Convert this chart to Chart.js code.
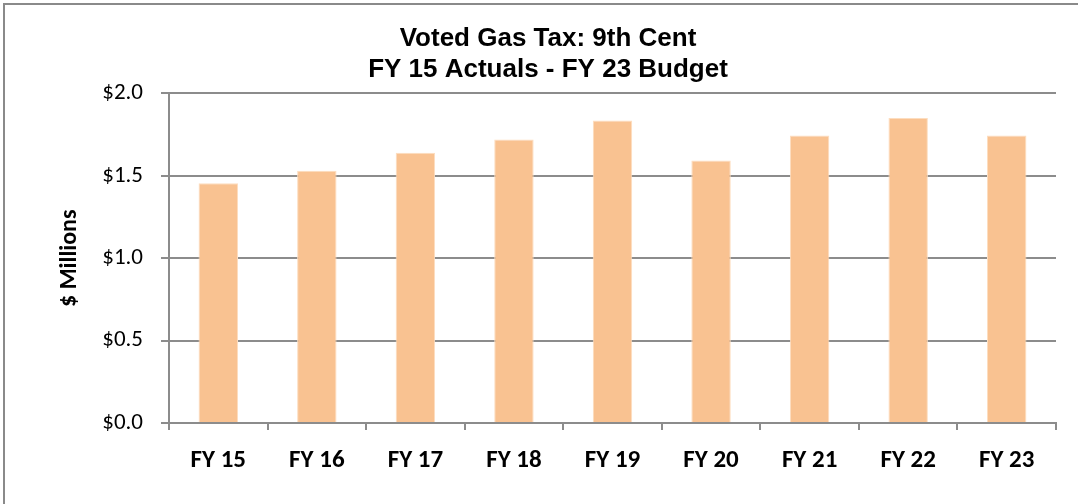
<!DOCTYPE html>
<html>
<head>
<meta charset="utf-8">
<script src="https://cdn.jsdelivr.net/npm/chart.js@4.4.0/dist/chart.umd.min.js"></script>
<style>
  body { margin: 0; background: #fff; }
  #marco { position: absolute; left: 3px; top: 3px; width: 1200px; height: 600px; border-top: 2px solid #8a8a8a; border-left: 2px solid #8a8a8a; pointer-events: none; }
  canvas { position: absolute; left: 0; top: 0; }
</style>
</head>
<body>
<canvas id="graficoGas" width="1078" height="504"></canvas>
<div id="marco"></div>
<script>
// Datos
const años = ["FY 15", "FY 16", "FY 17", "FY 18", "FY 19", "FY 20", "FY 21", "FY 22", "FY 23"];
const millones = [1.455, 1.53, 1.64, 1.72, 1.835, 1.593, 1.744, 1.851, 1.744];
const titulo = ["Voted Gas Tax: 9th Cent", "FY 15 Actuals - FY 23 Budget"];
const ticksY = [0, 0.5, 1.0, 1.5, 2.0];

const gris = "#8c8c8c";

const ctx = document.getElementById("graficoGas");
const grafico = new Chart(ctx, {
  type: "bar",
  data: {
    labels: años,
    datasets: [
      {
        label: "Voted Gas Tax",
        data: millones,
        backgroundColor: "#F9C291",
        borderColor: "#FDDDBF",
        borderWidth: 1,
        barPercentage: 0.4,
        categoryPercentage: 1,
      },
    ],
  },
  options: {
    responsive: false,
    animation: false,
    layout: { padding: { left: 40, right: 22, top: 0, bottom: 0 } },
    plugins: {
      legend: { display: false },
      tooltip: { enabled: false },
      title: {
        display: true,
        text: titulo,
        color: "#000",
        font: { family: "'Liberation Sans', Arial", size: 26, weight: "bold", lineHeight: 1.2 },
        padding: { top: 23, bottom: 8 },
      },
    },
    scales: {
      x: {
        grid: { display: true, drawOnChartArea: false, drawTicks: true, tickLength: 7, color: gris, lineWidth: 2, offset: true },
        border: { display: true, color: gris, width: 2 },
        ticks: { color: "#000", padding: 16, font: { family: "Carlito, Lato", size: 25, weight: "bold" } },
        afterFit: (eje) => { eje.height = 81; },
      },
      y: {
        min: 0,
        max: 2,
        afterBuildTicks: (eje) => { eje.ticks = ticksY.map((v) => ({ value: v })); },
        grid: { color: gris, lineWidth: 2, tickLength: 8 },
        border: { display: true, color: gris, width: 2 },
        ticks: {
          color: "#000",
          padding: 18,
          font: { family: "Carlito, Lato", size: 23 },
          callback: (v) => "$" + Number(v).toFixed(1),
        },
        title: {
          display: true,
          text: "$ Millions",
          color: "#000",
          font: { family: "Carlito, Lato", size: 24, weight: "bold" },
          padding: { top: 16, bottom: 0 },
        },
        afterFit: (eje) => { eje.width = 129; },
      },
    },
  },
});
</script>
</body>
</html>
